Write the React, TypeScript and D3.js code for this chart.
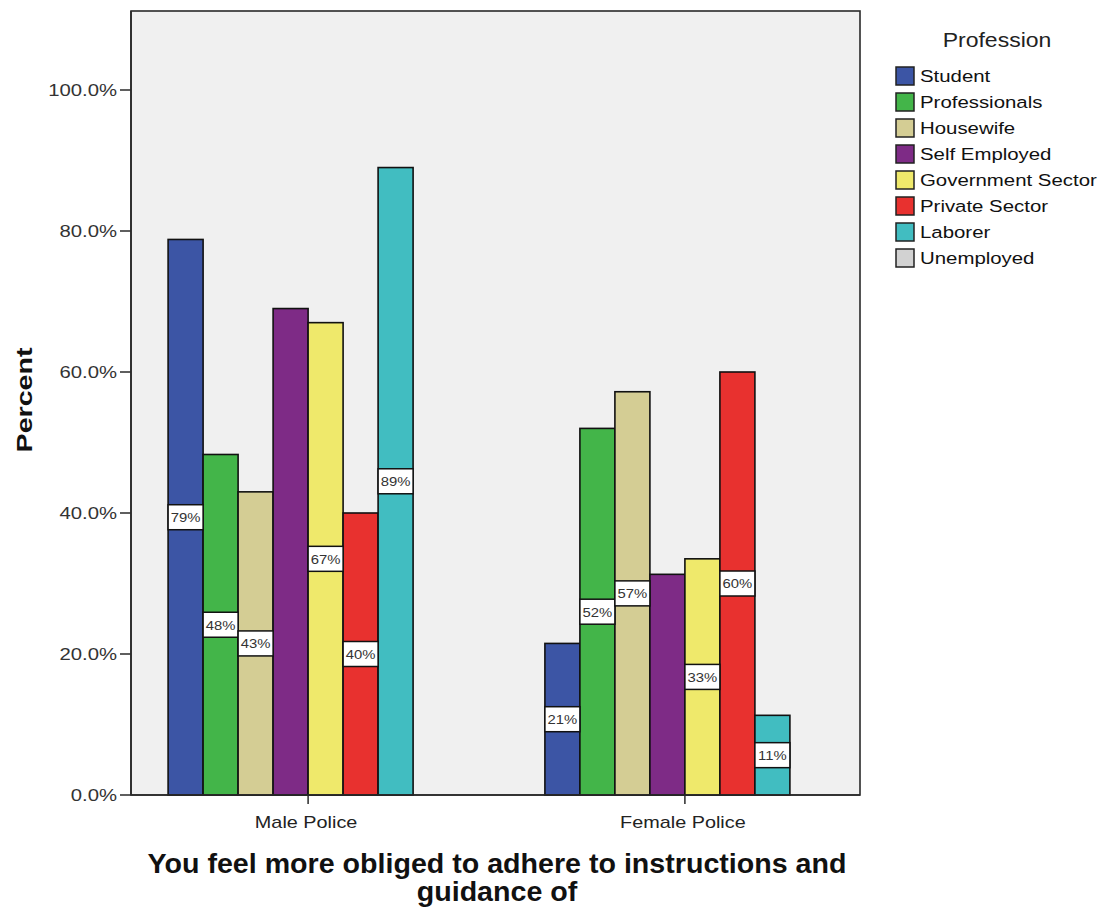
import React from "react";
import * as d3 from "d3";

const categories = ["Male Police", "Female Police"];
const professions = [
  "Student",
  "Professionals",
  "Housewife",
  "Self Employed",
  "Government Sector",
  "Private Sector",
  "Laborer",
  "Unemployed",
];
const colors = ["#3c55a5", "#43b549", "#d4cd94", "#7e2b86", "#efe96b", "#e8312f", "#41bdc1", "#d2d2d2"];
// values per profession: [Male, Female]; null = no bar
const maleValues = [78.8, 48.3, 43.0, 69.0, 67.0, 40.0, 89.0, null];
const femaleValues = [21.5, 52.0, 57.2, 31.3, 33.5, 60.0, 11.3, null];
const maleLabels = ["79%", "48%", "43%", null, "67%", "40%", "89%", null];
const femaleLabels = ["21%", "52%", "57%", null, "33%", "60%", "11%", null];
const yTicks = [0, 20, 40, 60, 80, 100];
const yTickLabels = ["0.0%", "20.0%", "40.0%", "60.0%", "80.0%", "100.0%"];

const FONT = "'Liberation Sans', Arial, sans-serif";

export default function App() {
  const W = 1103, H = 911;
  const left = 131, right = 860, top = 11, bottom = 795;
  const y = d3.scaleLinear().domain([0, 100]).range([bottom, 90]);
  const x = d3.scalePoint<string>().domain(categories).range([left, right + 2]).padding(0.47);
  const barW = 35;
  const inner = d3
    .scaleBand<string>()
    .domain(professions)
    .range([-(barW * professions.length) / 2, (barW * professions.length) / 2]);

  const series = [maleValues, femaleValues];
  const labels = [maleLabels, femaleLabels];

  return (
    <svg width={W} height={H} style={{ position: "absolute", left: 0, top: 0, background: "#fff" }}>
      <rect x={0} y={0} width={W} height={H} fill="#fff" />
      {/* plot area */}
      <rect x={left} y={top} width={right - left} height={bottom - top} fill="#f0f0f0" stroke="#2a2a2a" strokeWidth={1.6} />
      {/* bars */}
      {categories.map((c, ci) => (
        <g key={c}>
          {professions.map((p, pi) => {
            const v = series[ci][pi];
            if (v == null) return null;
            const bx = (x(c) as number) + (inner(p) as number);
            return (
              <rect
                key={p}
                x={bx}
                y={y(v)}
                width={inner.bandwidth()}
                height={bottom - y(v)}
                fill={colors[pi]}
                stroke="#111"
                strokeWidth={1.6}
              />
            );
          })}
          {professions.map((p, pi) => {
            const v = series[ci][pi];
            const lab = labels[ci][pi];
            if (v == null || lab == null) return null;
            const bx = (x(c) as number) + (inner(p) as number);
            const cy = y(v / 2);
            return (
              <g key={p + "l"}>
                <rect x={bx} y={cy - 12.5} width={inner.bandwidth()} height={25} fill="#fff" stroke="#111" strokeWidth={1.5} />
                <g transform={`translate(${bx + inner.bandwidth() / 2},${cy}) scale(1.1,1)`}>
                  <text textAnchor="middle" dy="0.36em" fontFamily={FONT} fontSize={13.5} fill="#333">
                    {lab}
                  </text>
                </g>
              </g>
            );
          })}
        </g>
      ))}
      {/* y axis */}
      <line x1={left} x2={left} y1={top} y2={bottom} stroke="#2a2a2a" strokeWidth={1.6} />
      {yTicks.map((t, i) => (
        <g key={t}>
          <line x1={left - 11} x2={left} y1={y(t)} y2={y(t)} stroke="#2a2a2a" strokeWidth={1.5} />
          <g transform={`translate(${left - 14},${y(t)}) scale(1.27,1)`}>
            <text textAnchor="end" dy="0.36em" fontFamily={FONT} fontSize={16} fill="#333">
              {yTickLabels[i]}
            </text>
          </g>
        </g>
      ))}
      {/* x axis ticks and labels */}
      <line x1={left} x2={right} y1={bottom} y2={bottom} stroke="#2a2a2a" strokeWidth={1.6} />
      {categories.map((c) => (
        <g key={c}>
          <line x1={x(c)} x2={x(c)} y1={bottom} y2={bottom + 9} stroke="#2a2a2a" strokeWidth={1.5} />
          <g transform={`translate(${(x(c) as number) - 2},${822}) scale(1.24,1)`}>
            <text textAnchor="middle" dy="0.36em" fontFamily={FONT} fontSize={16} fill="#222">
              {c}
            </text>
          </g>
        </g>
      ))}
      {/* y title */}
      <text
        transform={`translate(24,${400}) rotate(-90) scale(1.3,1)`}
        textAnchor="middle"
        dy="0.36em"
        fontFamily={FONT}
        fontSize={22}
        fontWeight="bold"
        fill="#111"
      >
        Percent
      </text>
      {/* x title */}
      <g fontFamily={FONT} fontSize={27} fontWeight="bold" fill="#111" textAnchor="middle">
        <g transform="translate(497,863) scale(1.06,1)">
          <text dy="0.36em">You feel more obliged to adhere to instructions and</text>
        </g>
        <g transform="translate(497,891) scale(1.06,1)">
          <text dy="0.36em">guidance of</text>
        </g>
      </g>
      {/* legend */}
      <g transform={`translate(997,40) scale(1.15,1)`}>
        <text textAnchor="middle" dy="0.36em" fontFamily={FONT} fontSize={20} fill="#222">
          Profession
        </text>
      </g>
      {professions.map((p, i) => {
        const ly = 76 + i * 26;
        return (
          <g key={p}>
            <rect x={896} y={ly - 9} width={18} height={18} fill={colors[i]} stroke="#222" strokeWidth={1.5} />
            <g transform={`translate(920,${ly}) scale(1.2,1)`}>
              <text dy="0.36em" fontFamily={FONT} fontSize={17} fill="#111">
                {p}
              </text>
            </g>
          </g>
        );
      })}
    </svg>
  );
}
